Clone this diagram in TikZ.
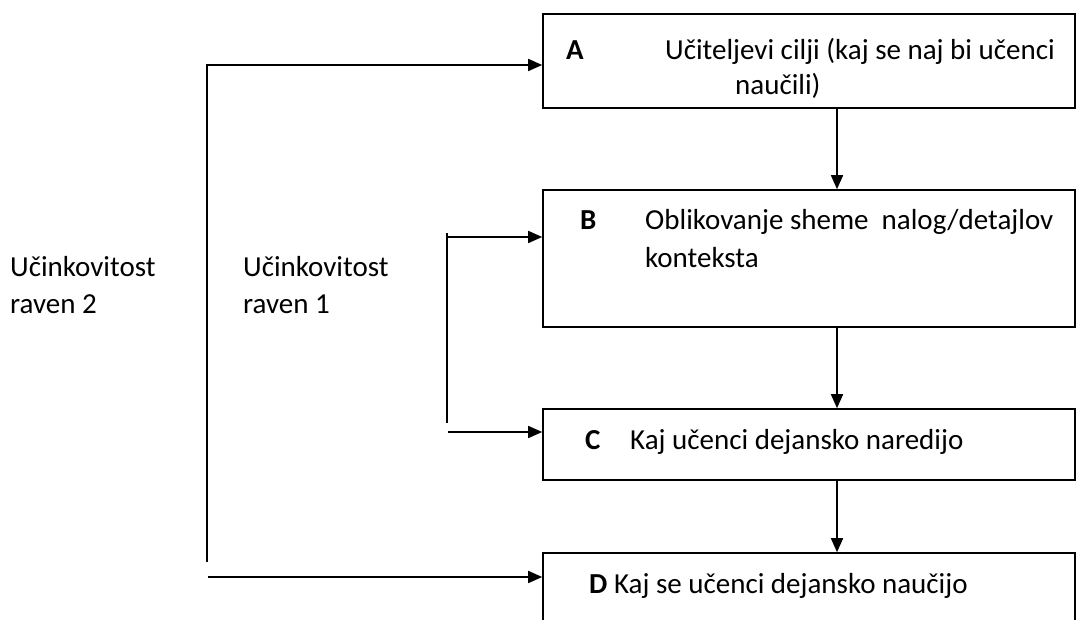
\documentclass[tikz,border=0pt]{standalone}
\usepackage{fontspec}
\setmainfont{Carlito}
\usetikzlibrary{arrows.meta}
\begin{document}
\begin{tikzpicture}[x=1pt,y=1pt,
    stage/.style={draw, line width=1.6pt, minimum width=532pt, inner sep=0pt},
    txt/.style={anchor=base west, inner sep=0pt, font=\fontsize{29}{35}\selectfont},
    bold/.style={font=\fontsize{29}{35}\selectfont\bfseries},
    flow/.style={line width=1.6pt, -{Triangle[length=14pt,width=12pt]}},
    rail/.style={line width=1.6pt}]
  \useasboundingbox (0,0) rectangle (1084,619);
  \clip (0,0) rectangle (1084,619);
  % the four stages
  \node[stage, minimum height=94pt]  (A) at (809,558) {};
  \node[stage, minimum height=137pt] (B) at (809,360.5) {};
  \node[stage, minimum height=71pt]  (C) at (809,174.5) {};
  \node[stage, minimum height=100pt] (D) at (809,16) {};
  % texts in the stages
  \node[txt, bold] (Alab) at (566,559) {A};
  \node[txt] (Atxt) at (665,559) {Učiteljevi cilji (kaj se naj bi učenci};
  \node[txt] (Atxt2) at (735,524) {naučili)};
  \node[txt, bold] (Blab) at (580,389) {B};
  \node[txt] (Btxt) at (645,389) {Oblikovanje sheme\ \ nalog/detajlov};
  \node[txt] (Btxt2) at (645,351) {konteksta};
  \node[txt, bold] (Clab) at (585,170) {C};
  \node[txt] (Ctxt) at (630,170) {Kaj učenci dejansko naredijo};
  \node[txt] (Dtxt) at (589,26) {\textbf{D} Kaj se učenci dejansko naučijo};
  % level labels
  \node[txt] (eff2) at (10,342) {Učinkovitost};
  \node[txt] (eff2b) at (10,305) {raven 2};
  \node[txt] (eff1) at (243,342) {Učinkovitost};
  \node[txt] (eff1b) at (243,305) {raven 1};
  % downward flow
  \coordinate (mid) at (837,0);
  \draw[flow] (A.south -| mid) -- (B.north -| mid);
  \draw[flow] (B.south -| mid) -- (C.north -| mid);
  \draw[flow] (C.south -| mid) -- (D.north -| mid);
  % level 2 loop
  \coordinate (r2top) at (207,554);
  \coordinate (r2end) at (207,57);
  \coordinate (r2in) at (208,42);
  \draw[flow] (r2end) -- (r2top) -- (r2top -| A.west);
  \draw[flow] (r2in) -- (r2in -| D.west);
  % level 1 loop
  \coordinate (r1top) at (447,386);
  \coordinate (r1end) at (447,196);
  \coordinate (r1out) at (448,382);
  \coordinate (r1in) at (448,187);
  \draw[rail] (r1end) -- (r1top);
  \draw[flow] (r1out) -- (r1out -| B.west);
  \draw[flow] (r1in) -- (r1in -| C.west);
\end{tikzpicture}
\end{document}
